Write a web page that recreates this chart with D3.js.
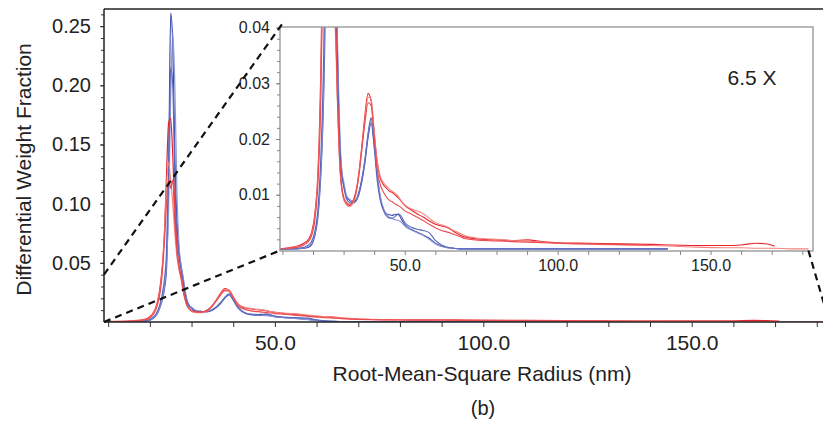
<!DOCTYPE html>
<html>
<head>
<meta charset="utf-8">
<script src="https://cdn.jsdelivr.net/npm/d3@7"></script>
<style>
  body { margin: 0; background: #fff; }
  svg { display: block; font-family: "Liberation Sans", Arial, sans-serif; }
</style>
</head>
<body>
<svg id="chart" width="823" height="425"></svg>
<script>
// radius grid (nm), shared by all runs
const radius = [9, 12, 15, 17, 18.5, 19.5, 20.5, 21.5, 22, 22.5, 23, 23.5, 24, 24.5, 25, 25.5, 26, 26.5, 27, 27.5,
  28, 28.5, 29, 29.5, 30, 31, 32, 33, 34, 35, 36, 37, 38, 39, 40, 41, 42, 43, 44, 45,
  46, 47, 48, 49, 50, 52, 54, 56, 58, 60, 62, 64, 66, 68, 70, 73, 76, 80, 85, 90,
  95, 100, 110, 120, 130, 136, 145, 155, 160, 165, 168, 171, 176, 182];

// blue runs
const blue1 = [0.0002, 0.0002, 0.0003, 0.0004, 0.0006, 0.0010, 0.0024, 0.0055, 0.0085, 0.013, 0.019, 0.028, 0.045, 0.12, 0.261, 0.235, 0.14, 0.085, 0.06, 0.047,
  0.036, 0.024, 0.017, 0.0135, 0.012, 0.0095, 0.009, 0.0087, 0.009, 0.0105, 0.013, 0.0165, 0.021, 0.0238, 0.019, 0.0135, 0.0095, 0.0075, 0.0066, 0.0064,
  0.0063, 0.0065, 0.0064, 0.0055, 0.0046, 0.0038, 0.0033, 0.0028, 0.0022, 0.0013, 0.0008, 0.0005, 0.0004, 0.0003, 0.0003, 0.0003, 0.0003, 0.0003, 0.0003, 0.0003,
  0.0003, 0.0003, 0.0003, 0.0003, 0.0003, 0.0003, null, null, null, null, null, null, null, null];
const blue2 = [0.0002, 0.0002, 0.0003, 0.0005, 0.0008, 0.0013, 0.0028, 0.006, 0.009, 0.014, 0.02, 0.03, 0.05, 0.095, 0.19, 0.245, 0.2, 0.11, 0.065, 0.048,
  0.038, 0.026, 0.018, 0.014, 0.0125, 0.0098, 0.0092, 0.0088, 0.0092, 0.0102, 0.0125, 0.016, 0.0205, 0.0232, 0.0195, 0.014, 0.0098, 0.0076, 0.0066, 0.006,
  0.0057, 0.0055, 0.0054, 0.005, 0.0044, 0.0037, 0.0032, 0.0027, 0.002, 0.0012, 0.0007, 0.0005, 0.0004, 0.0003, 0.0003, 0.0003, 0.0003, 0.0003, 0.0003, 0.0003,
  0.0003, 0.0003, 0.0003, 0.0003, 0.0003, 0.0003, null, null, null, null, null, null, null, null];
const blue3 = [0.0002, 0.0003, 0.0004, 0.0006, 0.001, 0.0016, 0.0032, 0.0068, 0.0105, 0.016, 0.024, 0.036, 0.06, 0.13, 0.215, 0.2, 0.12, 0.075, 0.055, 0.044,
  0.034, 0.023, 0.016, 0.013, 0.0115, 0.0092, 0.0086, 0.0085, 0.0088, 0.01, 0.0125, 0.0158, 0.0202, 0.0228, 0.0185, 0.0125, 0.009, 0.0072, 0.0062, 0.0058,
  0.0058, 0.0062, 0.0066, 0.006, 0.005, 0.0042, 0.0038, 0.0036, 0.0032, 0.0018, 0.001, 0.0006, 0.0004, 0.0003, 0.0003, 0.0003, 0.0003, 0.0003, 0.0003, 0.0003,
  0.0003, 0.0003, 0.0003, 0.0003, 0.0003, 0.0003, null, null, null, null, null, null, null, null];

// red runs
const red1 = [0.0003, 0.0005, 0.0008, 0.0013, 0.002, 0.0032, 0.0062, 0.013, 0.02, 0.031, 0.048, 0.075, 0.125, 0.168, 0.172, 0.14, 0.095, 0.063, 0.047, 0.039,
  0.027, 0.019, 0.0135, 0.0108, 0.0094, 0.0083, 0.0081, 0.0088, 0.0105, 0.014, 0.019, 0.0245, 0.0282, 0.0268, 0.021, 0.0158, 0.013, 0.0118, 0.0112, 0.0106,
  0.0104, 0.0099, 0.0094, 0.0087, 0.0081, 0.0073, 0.0066, 0.006, 0.0053, 0.0047, 0.0044, 0.0041, 0.0034, 0.0028, 0.0024, 0.0021, 0.002, 0.0019, 0.0018, 0.0019,
  0.0016, 0.0014, 0.0013, 0.0012, 0.0011, 0.001, 0.0009, 0.0009, 0.001, 0.0013, 0.0012, 0.0008, null, null];
const red2 = [0.0003, 0.0004, 0.0007, 0.0011, 0.0018, 0.0028, 0.0055, 0.012, 0.018, 0.028, 0.045, 0.075, 0.115, 0.135, 0.12, 0.1, 0.075, 0.055, 0.044, 0.036,
  0.026, 0.018, 0.013, 0.0105, 0.0092, 0.0082, 0.0079, 0.0084, 0.01, 0.0135, 0.0185, 0.0238, 0.0275, 0.0272, 0.0215, 0.016, 0.0133, 0.0122, 0.0116, 0.011,
  0.0106, 0.0102, 0.0096, 0.0088, 0.0082, 0.0075, 0.0071, 0.0066, 0.0058, 0.005, 0.0046, 0.0042, 0.0036, 0.0031, 0.0026, 0.0023, 0.0021, 0.002, 0.0018, 0.0017,
  0.0015, 0.0013, 0.0011, 0.001, 0.0009, 0.0008, 0.0006, 0.0005, 0.0005, 0.0004, 0.0004, 0.0004, 0.0003, 0.0003];
const red3 = [0.0003, 0.0004, 0.0006, 0.001, 0.0016, 0.0026, 0.005, 0.011, 0.017, 0.026, 0.042, 0.068, 0.1, 0.12, 0.113, 0.12, 0.085, 0.06, 0.046, 0.038,
  0.027, 0.019, 0.0135, 0.011, 0.0096, 0.0086, 0.0083, 0.0088, 0.0102, 0.0135, 0.0182, 0.023, 0.0265, 0.026, 0.0205, 0.0145, 0.0118, 0.0105, 0.0096, 0.009,
  0.0087, 0.0083, 0.008, 0.0076, 0.0071, 0.0066, 0.006, 0.0054, 0.0047, 0.0041, 0.0036, 0.0033, 0.0029, 0.0025, 0.0021, 0.0019, 0.0018, 0.0017, 0.0016, 0.0015,
  0.0014, 0.0013, 0.0012, 0.0011, 0.001, null, null, null, null, null, null, null, null, null];

const runNames = ['blue1', 'blue2', 'blue3', 'red1', 'red2', 'red3'];
const runValues = [blue1, blue2, blue3, red1, red2, red3];
const runColors = ['#3646ab', '#8f98d6', '#5868bd', '#e8232b', '#f2847f', '#ec4b50'];

const xTickLabels = [50, 100, 150];
const mainYTicks = [0.05, 0.10, 0.15, 0.20, 0.25];
const insetYTicks = [0.01, 0.02, 0.03, 0.04];
const zoomFactor = '6.5 X';

const svg = d3.select('#chart');
const textColor = '#222';

// main panel scales
const x = d3.scaleLinear().domain([9, 181.5]).range([104, 823]);
const y = d3.scaleLinear().domain([0, 0.2645]).range([322, 9]);
// inset scales
const xi = d3.scaleLinear().domain([9.2, 183.5]).range([280, 813]);
const yi = d3.scaleLinear().domain([0, 0.0401]).range([250.5, 27]);

const runs = runValues.map((vals, i) => ({
  name: runNames[i],
  color: runColors[i],
  points: radius.map((r, j) => ({ r, v: vals[j] }))
}));

const defs = svg.append('defs');
defs.append('clipPath').attr('id', 'clipMain').append('rect')
  .attr('x', 104).attr('y', 9).attr('width', 823 - 104).attr('height', 322 - 9);
defs.append('clipPath').attr('id', 'clipInset').append('rect')
  .attr('x', 280).attr('y', 27).attr('width', 813 - 280).attr('height', 251 - 27);

// main curves
const line = d3.line()
  .defined(d => d.v !== null)
  .x(d => x(d.r))
  .y(d => y(d.v))
  .curve(d3.curveMonotoneX);

svg.append('g').attr('clip-path', 'url(#clipMain)')
  .selectAll('path')
  .data(runs)
  .join('path')
  .attr('fill', 'none')
  .attr('stroke', d => d.color)
  .attr('stroke-width', 1.2)
  .attr('d', d => line(d.points));

// main axes
const yAxisG = svg.append('g').attr('transform', `translate(${x.range()[0]},0)`);
yAxisG.call(d3.axisLeft(y).tickValues(d3.range(0.01, 0.2645, 0.01)).tickSize(3).tickFormat(''));
yAxisG.call(g => g.select('.domain').remove());
const yAxisLab = svg.append('g').attr('transform', `translate(${x.range()[0]},0)`)
  .call(d3.axisLeft(y).tickValues(mainYTicks).tickSize(4).tickPadding(9).tickFormat(d3.format('.2f')));
yAxisLab.select('.domain').remove();
yAxisLab.selectAll('text').attr('font-size', 20).attr('fill', textColor).attr('font-family', '"Liberation Sans", Arial, sans-serif');

const xAxisG = svg.append('g').attr('transform', `translate(0,${y(0)})`)
  .call(d3.axisBottom(x).tickValues(d3.range(10, 182, 10)).tickSize(5).tickPadding(8)
    .tickFormat(d => xTickLabels.includes(d) ? d3.format('.1f')(d) : ''));
xAxisG.select('.domain').remove();
xAxisG.selectAll('text').attr('font-size', 21).attr('fill', textColor).attr('font-family', '"Liberation Sans", Arial, sans-serif');

svg.selectAll('.tick line').attr('stroke', '#333');

// frame lines (left axis, top border, bottom axis)
svg.append('line').attr('x1', x.range()[0]).attr('x2', x.range()[0]).attr('y1', y.range()[1]).attr('y2', y(0))
  .attr('stroke', '#222').attr('stroke-width', 1.5);
svg.append('line').attr('x1', x.range()[0]).attr('x2', 823).attr('y1', y.range()[1]).attr('y2', y.range()[1])
  .attr('stroke', '#222').attr('stroke-width', 1.5);
svg.append('line').attr('x1', x.range()[0]).attr('x2', 823).attr('y1', y(0)).attr('y2', y(0))
  .attr('stroke', '#222').attr('stroke-width', 1.5);

// titles
svg.append('text')
  .attr('transform', `translate(31,${(y.range()[0] + y.range()[1]) / 2 + 4}) rotate(-90)`)
  .attr('text-anchor', 'middle').attr('font-size', 21).attr('fill', textColor)
  .text('Differential Weight Fraction');
svg.append('text')
  .attr('x', 482).attr('y', 381)
  .attr('text-anchor', 'middle').attr('font-size', 21).attr('fill', textColor)
  .text('Root-Mean-Square Radius (nm)');
svg.append('text')
  .attr('x', 483).attr('y', 415)
  .attr('text-anchor', 'middle').attr('font-size', 20).attr('fill', textColor)
  .text('(b)');

// inset box
svg.append('rect')
  .attr('x', 280).attr('y', 27).attr('width', 813 - 280).attr('height', 251 - 27)
  .attr('fill', '#fff');

const lineInset = d3.line()
  .defined(d => d.v !== null)
  .x(d => xi(d.r))
  .y(d => yi(d.v))
  .curve(d3.curveMonotoneX);

svg.append('g').attr('clip-path', 'url(#clipInset)')
  .selectAll('path')
  .data(runs)
  .join('path')
  .attr('fill', 'none')
  .attr('stroke', d => d.color)
  .attr('stroke-width', 1.1)
  .attr('d', d => lineInset(d.points));

svg.append('rect')
  .attr('x', 280).attr('y', 27).attr('width', 813 - 280).attr('height', 251 - 27)
  .attr('fill', 'none').attr('stroke', '#999').attr('stroke-width', 1.4);

// inset axes
const yiMinor = svg.append('g').attr('transform', 'translate(280,0)')
  .call(d3.axisLeft(yi).tickValues(d3.range(0.002, 0.0401, 0.002)).tickSize(3).tickFormat(''));
yiMinor.select('.domain').remove();
const yiAxis = svg.append('g').attr('transform', 'translate(280,0)')
  .call(d3.axisLeft(yi).tickValues(insetYTicks).tickSize(4).tickPadding(6).tickFormat(d3.format('.2f')));
yiAxis.select('.domain').remove();
yiAxis.selectAll('text').attr('font-size', 16).attr('fill', textColor).attr('font-family', '"Liberation Sans", Arial, sans-serif');

const xiAxis = svg.append('g').attr('transform', 'translate(0,251)')
  .call(d3.axisBottom(xi).tickValues(d3.range(10, 184, 10)).tickSize(4).tickPadding(5)
    .tickFormat(d => xTickLabels.includes(d) ? d3.format('.1f')(d) : ''));
xiAxis.select('.domain').remove();
xiAxis.selectAll('text').attr('font-size', 16).attr('fill', textColor).attr('font-family', '"Liberation Sans", Arial, sans-serif');
[yiMinor, yiAxis, xiAxis].forEach(g => g.selectAll('.tick line').attr('stroke', '#888'));

svg.append('text')
  .attr('x', 752).attr('y', 85)
  .attr('text-anchor', 'middle').attr('font-size', 21).attr('fill', textColor)
  .text(zoomFactor);

// zoom connectors (dashed)
const connectors = [
  { from: [x(9), y(0.0401)], to: [xi(9.2), yi(0.0401)], ext: 6 },
  { from: [x(9), y(0)], to: [xi(9.2), yi(0)], ext: 0 },
  { from: [xi(182), yi(0)], to: [x(183), y(0)], ext: 0 }
];
connectors.forEach(c => {
  const dx = c.to[0] - c.from[0], dy = c.to[1] - c.from[1];
  const len = Math.hypot(dx, dy);
  svg.append('line')
    .attr('x1', c.from[0]).attr('y1', c.from[1])
    .attr('x2', c.to[0] + dx / len * c.ext).attr('y2', c.to[1] + dy / len * c.ext)
    .attr('stroke', '#111').attr('stroke-width', 2.2).attr('stroke-dasharray', '7,5');
});
</script>
</body>
</html>
